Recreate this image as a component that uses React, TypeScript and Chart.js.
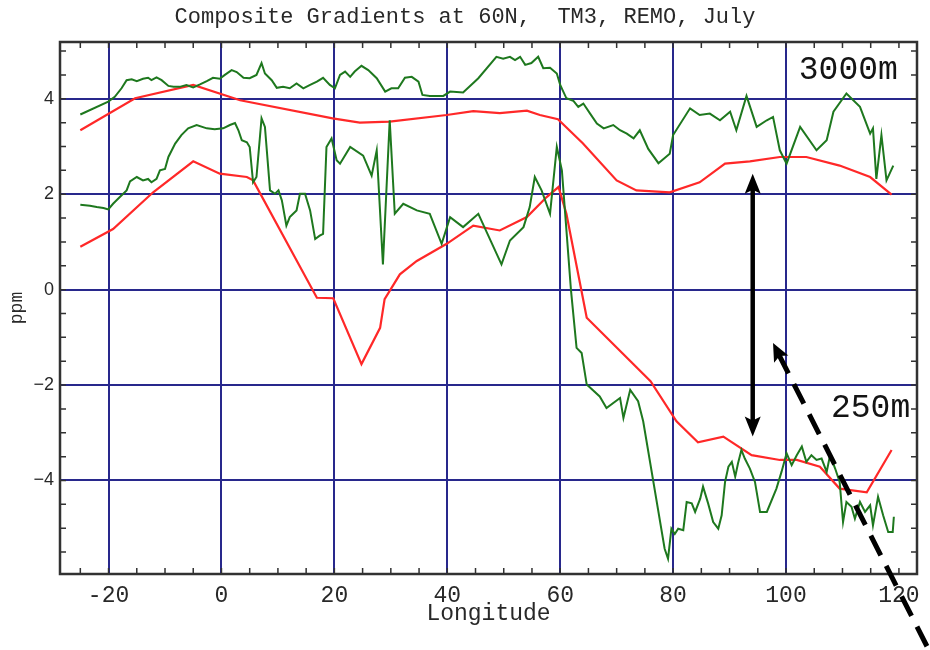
import React, { useEffect, useRef } from 'react';
import { Chart, registerables } from 'chart.js';

Chart.register(...registerables);

// ---------- text ----------
const TITLE = 'Composite Gradients at 60N,  TM3, REMO, July';
const X_TITLE = 'Longitude';
const Y_TITLE = 'ppm';
const LABEL_TOP = '3000m';
const LABEL_BOTTOM = '250m';

// ---------- axes ----------
const X_MIN = -28.6;
const X_MAX = 123.2;
const Y_MIN = -5.96;
const Y_MAX = 5.19;
const X_TICKS = [-20, 0, 20, 40, 60, 80, 100, 120];
const X_GRID = [-20, 0, 20, 40, 60, 80, 100];
const Y_TICKS = [-4, -2, 0, 2, 4];
const X_MINOR = [-25, -20, -15, -10, -5, 0, 5, 10, 15, 20, 25, 30, 35, 40, 45, 50, 55, 60, 65, 70, 75, 80, 85, 90, 95, 100, 105, 110, 115, 120];
const Y_MINOR = [-5.5, -5, -4.5, -4, -3.5, -3, -2.5, -2, -1.5, -1, -0.5, 0, 0.5, 1, 1.5, 2, 2.5, 3, 3.5, 4, 4.5, 5];

// ---------- series: 3000 m, observed (green) ----------
const upperObsLon = [-25, -20.05, -18.9, -17.7, -16.8, -15.9, -15.0, -13.9, -13.0, -12.4, -11.5, -10.6, -9.4, -8.5, -7.4, -6.2, -5.0, -3.8, -2.6, -1.5, -0.3, 0.6, 1.8, 2.7, 3.9, 5.0, 6.2, 7.1, 7.7, 8.9, 9.8, 10.9, 12.1, 13.3, 14.5, 15.7, 16.9, 18.0, 19.2, 20.1, 21.0, 21.9, 22.8, 23.6, 24.8, 26.0, 27.5, 29.0, 30.1, 31.3, 32.5, 33.7, 34.9, 35.6, 36.9, 39.3, 40.5, 42.8, 45.5, 48.7, 49.9, 51.1, 52.0, 52.9, 53.8, 54.9, 56.1, 57.0, 58.2, 59.4, 60.0, 61.1, 62.3, 63.2, 64.1, 65.3, 66.5, 67.7, 69.4, 70.6, 71.8, 73.0, 74.1, 75.6, 77.4, 79.4, 80.0, 83.0, 84.7, 86.5, 88.3, 90.1, 91.2, 93.0, 94.8, 96.6, 97.7, 98.9, 100.1, 102.5, 105.4, 107.2, 108.4, 110.7, 113.1, 114.9, 115.4, 116.0, 116.9, 117.8, 119.0];
const upperObsVal = [3.67, 3.94, 4.04, 4.22, 4.39, 4.41, 4.37, 4.42, 4.44, 4.39, 4.45, 4.39, 4.27, 4.25, 4.25, 4.29, 4.24, 4.30, 4.37, 4.44, 4.42, 4.50, 4.60, 4.56, 4.44, 4.43, 4.50, 4.75, 4.53, 4.39, 4.23, 4.25, 4.22, 4.32, 4.22, 4.29, 4.36, 4.44, 4.29, 4.22, 4.50, 4.57, 4.46, 4.57, 4.69, 4.60, 4.43, 4.15, 4.22, 4.22, 4.44, 4.46, 4.36, 4.08, 4.06, 4.06, 4.15, 4.13, 4.43, 4.88, 4.84, 4.88, 4.81, 4.88, 4.71, 4.75, 4.88, 4.64, 4.65, 4.53, 4.29, 4.01, 3.96, 3.83, 3.90, 3.69, 3.48, 3.38, 3.45, 3.34, 3.27, 3.17, 3.34, 2.95, 2.65, 2.85, 3.24, 3.80, 3.66, 3.69, 3.55, 3.73, 3.34, 4.06, 3.41, 3.55, 3.62, 2.92, 2.64, 3.41, 2.92, 3.13, 3.73, 4.11, 3.83, 3.27, 3.38, 2.32, 3.24, 2.29, 2.60];

// ---------- series: 3000 m, model (red) ----------
const upperModLon = [-25, -15.3, -5, 3.3, 19.7, 24.5, 29.8, 39.9, 44.6, 49.3, 54.1, 56.4, 59.6, 64.0, 70.0, 73.5, 79.4, 84.7, 89.2, 93.6, 98.9, 103.6, 109.5, 114.9, 118.7];
const upperModVal = [3.34, 4.01, 4.29, 3.97, 3.59, 3.50, 3.52, 3.66, 3.74, 3.70, 3.75, 3.66, 3.57, 3.07, 2.29, 2.08, 2.04, 2.25, 2.64, 2.69, 2.78, 2.78, 2.60, 2.36, 1.99];

// ---------- series: 250 m, observed (green) ----------
const lowerObsLon = [-25, -23.3, -22.1, -20.9, -20.05, -19.2, -18.0, -16.8, -16.2, -15.0, -13.9, -13.0, -12.4, -11.5, -10.9, -10.0, -9.4, -8.2, -7.1, -5.9, -4.4, -2.6, -1.2, 0.3, 1.5, 2.4, 3.0, 3.6, 4.5, 5.0, 5.6, 6.2, 7.1, 7.7, 8.6, 9.5, 10.1, 10.7, 11.5, 12.1, 12.7, 13.3, 13.9, 14.8, 15.7, 16.6, 17.4, 18.0, 18.6, 19.5, 20.4, 21.0, 22.8, 25.1, 26.6, 27.5, 28.6, 29.8, 30.7, 32.2, 34.6, 36.9, 39.0, 40.5, 42.8, 45.5, 47.0, 49.6, 51.1, 53.5, 54.6, 55.5, 56.7, 58.2, 59.4, 60.3, 61.9, 62.9, 63.8, 64.7, 67.0, 68.2, 70.6, 71.2, 72.4, 73.8, 74.7, 78.5, 79.1, 79.7, 80.3, 80.9, 81.8, 82.4, 83.3, 83.9, 84.8, 85.3, 86.2, 87.1, 88.0, 88.6, 89.2, 89.8, 90.4, 91.0, 91.5, 92.1, 92.7, 93.6, 94.5, 95.4, 96.6, 98.3, 99.2, 100.1, 101.0, 101.9, 102.8, 103.6, 104.5, 105.4, 106.3, 107.2, 107.8, 108.7, 109.5, 110.1, 110.7, 111.6, 112.2, 113.1, 114.0, 114.9, 115.4, 116.3, 117.2, 118.1, 118.9, 119.1];
const lowerObsVal = [1.78, 1.76, 1.73, 1.71, 1.68, 1.80, 1.94, 2.08, 2.27, 2.36, 2.29, 2.32, 2.25, 2.32, 2.50, 2.53, 2.78, 3.06, 3.24, 3.38, 3.45, 3.38, 3.36, 3.38, 3.45, 3.49, 3.34, 3.13, 3.09, 2.99, 2.25, 2.36, 3.59, 3.41, 2.08, 2.01, 2.08, 1.87, 1.34, 1.52, 1.59, 1.66, 2.01, 2.01, 1.66, 1.06, 1.13, 1.17, 2.99, 3.17, 2.71, 2.64, 2.99, 2.81, 2.39, 2.92, 0.53, 3.55, 1.59, 1.80, 1.66, 1.59, 0.96, 1.52, 1.31, 1.59, 1.20, 0.53, 1.03, 1.31, 1.73, 2.36, 2.08, 1.59, 2.99, 2.50, 0.0, -1.22, -1.33, -1.99, -2.24, -2.48, -2.27, -2.69, -2.10, -2.34, -2.76, -5.43, -5.64, -5.01, -5.12, -5.01, -5.04, -4.45, -4.48, -4.66, -4.38, -4.13, -4.48, -4.87, -5.01, -4.73, -4.03, -3.71, -3.61, -3.92, -3.64, -3.36, -3.54, -3.75, -4.03, -4.66, -4.66, -4.17, -3.82, -3.43, -3.68, -3.47, -3.29, -3.61, -3.47, -3.57, -3.54, -3.82, -3.47, -3.75, -4.03, -4.87, -4.45, -4.55, -4.80, -4.45, -4.66, -4.52, -4.94, -4.34, -4.73, -5.08, -5.08, -4.76];

// ---------- series: 250 m, model (red) ----------
const lowerModLon = [-25, -19.2, -12.1, -5.0, -0.3, 4.5, 5.6, 16.9, 19.8, 24.8, 28.1, 28.9, 31.6, 34.6, 39.9, 44.6, 49.3, 54.1, 57.6, 59.7, 61.1, 64.7, 76.0, 80.6, 84.4, 88.9, 93.9, 98.9, 101.9, 106.0, 109.5, 114.3, 118.7];
const lowerModVal = [0.90, 1.27, 2.04, 2.69, 2.43, 2.36, 2.29, -0.17, -0.18, -1.56, -0.80, -0.20, 0.32, 0.60, 0.96, 1.34, 1.24, 1.52, 1.94, 2.15, 1.59, -0.59, -1.92, -2.76, -3.20, -3.08, -3.47, -3.57, -3.57, -3.71, -4.17, -4.25, -3.36];

// ---------- annotations (data coordinates) ----------
const ARROW_LON = 94.1;
const ARROW_TOP = 2.43;
const ARROW_BOTTOM = -3.08;
const DASH_TIP = [97.7, -1.12];
const DASH_TAIL = [125.5, -7.6];
const LABEL_TOP_POS = [119.8, 4.59];
const LABEL_BOTTOM_POS = [122.0, -2.48];

// ---------- styles ----------
const GREEN = 'rgb(30,120,30)';
const RED = 'rgb(255,40,40)';
const NAVY = 'rgb(40,40,140)';
const FRAME = 'rgb(50,50,50)';
const TEXT = 'rgb(40,40,40)';
const MONO = "'Liberation Mono', 'Courier New', monospace";
const SANS = "'Liberation Sans', Arial, sans-serif";

const toPoints = (xs: number[], ys: number[]) => xs.map((x, i) => ({ x, y: ys[i] }));

function drawHead(ctx: CanvasRenderingContext2D, tx: number, ty: number, angle: number, len: number, half: number) {
  ctx.save();
  ctx.translate(tx, ty);
  ctx.rotate(angle);
  ctx.beginPath();
  ctx.moveTo(0, 0);
  ctx.lineTo(-len, -half);
  ctx.lineTo(-len * 0.8, 0);
  ctx.lineTo(-len, half);
  ctx.closePath();
  ctx.fill();
  ctx.restore();
}

const framePlugin = {
  id: 'frameAndNotes',
  afterDraw(chart: any) {
    const { ctx, chartArea: a, scales } = chart;
    const xs = scales.x;
    const ys = scales.y;
    ctx.save();
    // minor ticks on all four sides
    ctx.strokeStyle = FRAME;
    ctx.lineWidth = 1.5;
    const tl = 6;
    ctx.beginPath();
    X_MINOR.forEach((v) => {
      const px = xs.getPixelForValue(v);
      ctx.moveTo(px, a.bottom);
      ctx.lineTo(px, a.bottom - tl);
      ctx.moveTo(px, a.top);
      ctx.lineTo(px, a.top + tl);
    });
    Y_MINOR.forEach((v) => {
      const py = ys.getPixelForValue(v);
      ctx.moveTo(a.left, py);
      ctx.lineTo(a.left + tl, py);
      ctx.moveTo(a.right, py);
      ctx.lineTo(a.right - tl, py);
    });
    ctx.stroke();
    // frame
    ctx.lineWidth = 2.5;
    ctx.strokeRect(a.left, a.top, a.right - a.left, a.bottom - a.top);

    // labels
    ctx.fillStyle = 'rgb(20,20,20)';
    ctx.font = `33px ${MONO}`;
    ctx.textAlign = 'right';
    ctx.textBaseline = 'middle';
    ctx.fillText(LABEL_TOP, xs.getPixelForValue(LABEL_TOP_POS[0]), ys.getPixelForValue(LABEL_TOP_POS[1]));
    ctx.fillText(LABEL_BOTTOM, xs.getPixelForValue(LABEL_BOTTOM_POS[0]), ys.getPixelForValue(LABEL_BOTTOM_POS[1]));

    // double-headed arrow
    ctx.fillStyle = '#000';
    ctx.strokeStyle = '#000';
    const ax = xs.getPixelForValue(ARROW_LON);
    const at = ys.getPixelForValue(ARROW_TOP);
    const ab = ys.getPixelForValue(ARROW_BOTTOM);
    ctx.lineWidth = 4.5;
    ctx.setLineDash([]);
    ctx.beginPath();
    ctx.moveTo(ax, at + 14);
    ctx.lineTo(ax, ab - 14);
    ctx.stroke();
    drawHead(ctx, ax, at, -Math.PI / 2, 20, 8);
    drawHead(ctx, ax, ab, Math.PI / 2, 20, 8);

    // dashed arrow
    const tipX = xs.getPixelForValue(DASH_TIP[0]);
    const tipY = ys.getPixelForValue(DASH_TIP[1]);
    const tailX = xs.getPixelForValue(DASH_TAIL[0]);
    const tailY = ys.getPixelForValue(DASH_TAIL[1]);
    const ang = Math.atan2(tipY - tailY, tipX - tailX);
    ctx.lineWidth = 5;
    ctx.setLineDash([22, 12]);
    ctx.beginPath();
    ctx.moveTo(tipX - Math.cos(ang) * 12, tipY - Math.sin(ang) * 12);
    ctx.lineTo(tailX, tailY);
    ctx.stroke();
    ctx.setLineDash([]);
    drawHead(ctx, tipX, tipY, ang, 18, 8);
    ctx.restore();
  },
};

export default function App() {
  const ref = useRef<HTMLCanvasElement | null>(null);
  useEffect(() => {
    document.body.style.margin = '0';
    document.body.style.background = '#fff';
    const canvas = ref.current;
    if (!canvas) return;
    const chart = new Chart(canvas, {
      type: 'line',
      data: {
        datasets: [
          { data: toPoints(upperObsLon, upperObsVal), borderColor: GREEN, borderWidth: 2, pointRadius: 0, tension: 0, fill: false },
          { data: toPoints(lowerObsLon, lowerObsVal), borderColor: GREEN, borderWidth: 2, pointRadius: 0, tension: 0, fill: false },
          { data: toPoints(upperModLon, upperModVal), borderColor: RED, borderWidth: 2.2, pointRadius: 0, tension: 0, fill: false },
          { data: toPoints(lowerModLon, lowerModVal), borderColor: RED, borderWidth: 2.2, pointRadius: 0, tension: 0, fill: false },
        ],
      },
      options: {
        animation: false,
        responsive: false,
        maintainAspectRatio: false,
        layout: { padding: 0 },
        plugins: {
          legend: { display: false },
          tooltip: { enabled: false },
          title: {
            display: true,
            text: TITLE,
            color: TEXT,
            font: { family: MONO, size: 22, weight: 'normal' },
            padding: { top: 4, bottom: 11.6 },
          },
        },
        scales: {
          x: {
            type: 'linear',
            min: X_MIN,
            max: X_MAX,
            afterBuildTicks: (s: any) => {
              s.ticks = X_TICKS.map((v) => ({ value: v }));
            },
            afterFit: (s: any) => {
              s.height = 76;
            },
            grid: {
              color: (c: any) => (c.tick && X_GRID.includes(c.tick.value) ? NAVY : 'rgba(0,0,0,0)'),
              lineWidth: 2,
              drawTicks: false,
            },
            border: { display: false },
            ticks: {
              color: TEXT,
              font: { family: MONO, size: 23 },
              padding: 8,
              maxRotation: 0,
              autoSkip: false,
              callback: (v: any) => String(v),
            },
            title: {
              display: true,
              text: X_TITLE,
              color: TEXT,
              font: { family: MONO, size: 23 },
              padding: { top: 0, bottom: 22 },
            },
          },
          y: {
            type: 'linear',
            min: Y_MIN,
            max: Y_MAX,
            afterBuildTicks: (s: any) => {
              s.ticks = Y_TICKS.map((v) => ({ value: v }));
            },
            afterFit: (s: any) => {
              s.width = 60;
            },
            grid: { color: NAVY, lineWidth: 2, drawTicks: false },
            border: { display: false },
            ticks: {
              color: TEXT,
              font: { family: SANS, size: 18 },
              padding: 6,
              callback: (v: any) => (v < 0 ? '\u2212' + Math.abs(v) : String(v)),
            },
            title: {
              display: true,
              text: Y_TITLE,
              color: TEXT,
              font: { family: MONO, size: 18 },
              padding: { top: 6, bottom: 0 },
            },
          },
          yR: {
            type: 'linear',
            position: 'right',
            display: true,
            afterFit: (s: any) => {
              s.width = 13;
            },
            grid: { display: false, drawTicks: false },
            border: { display: false },
            ticks: { display: false },
          },
        },
      },
      plugins: [framePlugin],
    } as any);
    return () => chart.destroy();
  }, []);
  return (
    <div style={{ width: 930, height: 650, background: '#fff' }}>
      <canvas ref={ref} width={930} height={650} style={{ display: 'block' }} />
    </div>
  );
}
